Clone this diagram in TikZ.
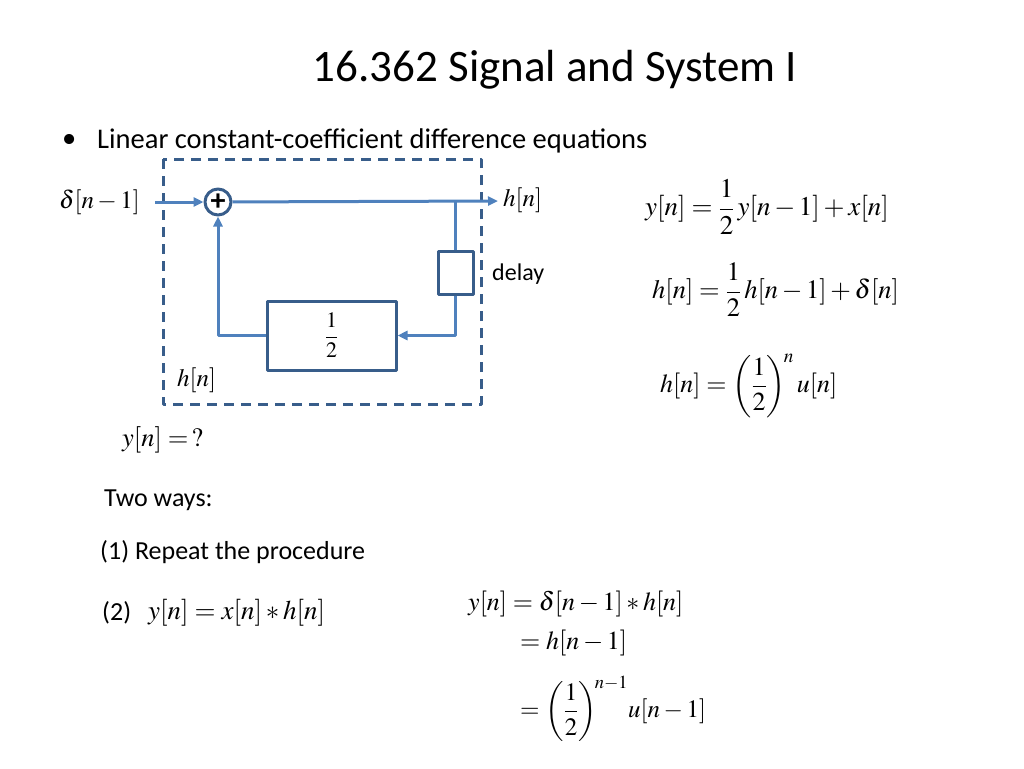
\documentclass[tikz,border=0pt]{standalone}
\usepackage{mathptmx}
\usepackage{amsmath}
\usepackage{fontspec}
\setmainfont{Carlito}
\usetikzlibrary{positioning,arrows.meta}
\definecolor{sigblue}{RGB}{79,129,189}
\definecolor{blkblue}{RGB}{56,93,138}
\tikzset{
  sig/.style={draw=sigblue, line width=3pt},
  blk/.style={draw=blkblue, line width=3pt, inner sep=0pt},
  txt/.style={anchor=west, inner sep=0pt},
  eqn/.style={txt, font=\fontsize{27}{32}\selectfont},
}
\begin{document}
\begin{tikzpicture}[x=1pt, y=-1pt, font=\fontsize{25}{30}\selectfont, line join=round, >={Triangle[length=10pt,width=9pt]}]
  \useasboundingbox (0,0) rectangle (1024,768);
  % title and bullet
  \node (title) at (555,70) {\fontsize{45}{54}\selectfont 16.362 Signal and System I};
  \node[txt, font=\fontsize{28.5}{32}\selectfont] (dot) at (62,141) {•};
  \node[txt, font=\fontsize{28.5}{32}\selectfont] (intro) at (97,141) {Linear constant-coefficient difference equations};
  % system block diagram
  \draw[draw=blkblue, line width=3pt, dash pattern=on 10pt off 7pt] (163,159) rectangle (481,404);
  \node[blk, circle, minimum size=26pt] (add) at (218,202) {\fontsize{30}{30}\selectfont\bfseries +};
  \node[blk, minimum width=35, minimum height=43] (delay) at (455.5,272.5) {};
  \node[blk, minimum width=129, minimum height=69] (half) at (331.5,335.5) {\fontsize{22}{26}\selectfont$\dfrac{1}{2}$};
  \coordinate (in) at (155,202);
  \coordinate (tap) at (455.5,202);
  \coordinate (out) at (498,201);
  \draw[sig,->] (in) -- (add);
  \draw[sig,->] (add) -- (out);
  \draw[sig] (tap) -- (delay);
  \draw[sig,->] (delay) |- (half);
  \draw[sig,->] (half) -| (add);
  \node[anchor=east, inner sep=0pt] (inlab) at (140,202) {$\delta[n-1]$};
  \node[txt] (outlab) at (503,200) {$h[n]$};
  \node[txt, font=\fontsize{24}{28}\selectfont] (dlab) at (492,274) {delay};
  \node[txt] (hlab) at (177,380) {$h[n]$};
  % equations on the right
  \node[eqn] (eq1) at (645,207) {$y[n]=\dfrac{1}{2}\,y[n-1]+x[n]$};
  \node[eqn, font=\fontsize{26.5}{30}\selectfont] (eq2) at (652,290) {$h[n]=\dfrac{1}{2}\,h[n-1]+\delta[n]$};
  \node[eqn, font=\fontsize{26}{30}\selectfont] (eq3) at (660,386) {$h[n]=\left(\dfrac{1}{2}\right)^{\!n}u[n]$};
  % the question and the two ways
  \node[eqn, font=\fontsize{26.5}{30}\selectfont] (ask) at (122,440) {$y[n]=\,?$};
  \node[txt, font=\fontsize{26}{30}\selectfont] (ways) at (104,500) {Two ways:};
  \node[txt, font=\fontsize{26}{30}\selectfont] (way1) at (100,552) {(1) Repeat the procedure};
  \node[txt, font=\fontsize{26}{30}\selectfont] (way2) at (102,613) {(2)};
  \node[eqn] (conv) at (148,613) {$y[n]=x[n]*h[n]$};
  \node[eqn, font=\fontsize{26}{30}\selectfont] (r1) at (468,604) {$y[n]=\delta[n-1]*h[n]$};
  \node[eqn, font=\fontsize{26}{30}\selectfont] (r2) at (520,643) {$=h[n-1]$};
  \node[eqn, font=\fontsize{25}{30}\selectfont] (r3) at (520,709) {$=\left(\dfrac{1}{2}\right)^{\!n-1}\!u[n-1]$};
\end{tikzpicture}
\end{document}
